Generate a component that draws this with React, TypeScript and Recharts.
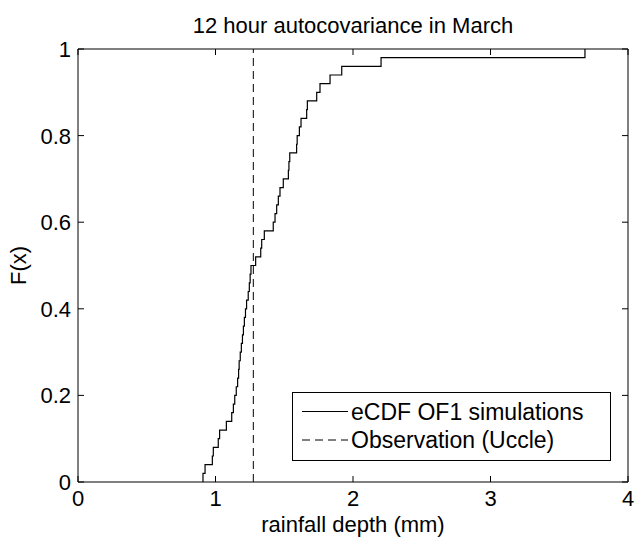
import React from 'react';
import { LineChart, Line, XAxis, YAxis, ReferenceLine } from 'recharts';

// sorted simulated values (mm), one per jump of the eCDF
const simValues = [
  0.909, 0.924, 0.977, 0.984, 1.02, 1.03, 1.079, 1.118, 1.13, 1.14,
  1.151, 1.161, 1.168, 1.172, 1.18, 1.188, 1.196, 1.203, 1.21, 1.218,
  1.226, 1.238, 1.246, 1.252, 1.258, 1.292, 1.329, 1.336, 1.355, 1.42,
  1.433, 1.445, 1.457, 1.469, 1.493, 1.53, 1.534, 1.54, 1.59, 1.594,
  1.61, 1.622, 1.663, 1.668, 1.736, 1.76, 1.833, 1.918, 2.204, 3.687,
];

// F(x) reached after each jump
const ecdfLevels = [
  0.02, 0.04, 0.06, 0.08, 0.1, 0.12, 0.14, 0.16, 0.18, 0.2,
  0.22, 0.24, 0.26, 0.28, 0.3, 0.32, 0.34, 0.36, 0.38, 0.4,
  0.42, 0.44, 0.46, 0.48, 0.5, 0.52, 0.54, 0.56, 0.58, 0.6,
  0.62, 0.64, 0.66, 0.68, 0.7, 0.72, 0.74, 0.76, 0.78, 0.8,
  0.82, 0.84, 0.86, 0.88, 0.9, 0.92, 0.94, 0.96, 0.98, 1,
];

const observation = 1.275;

const xTicks = [0, 1, 2, 3, 4];
const yTicks = [0, 0.2, 0.4, 0.6, 0.8, 1];

const legendItems = [
  { name: 'eCDF OF1 simulations', dash: undefined },
  { name: 'Observation (Uccle)', dash: '8 5' },
];

const FONT = '"Liberation Sans", Arial, Helvetica, sans-serif';
const FS = 22;

const W = 635;
const H = 537;
const MARGIN = { top: 49, right: 7, bottom: 0, left: 0 };
const Y_AXIS_W = 78;
const X_AXIS_H = 55;
const PLOT_W = W - MARGIN.right - Y_AXIS_W;
const PLOT_H = H - MARGIN.top - X_AXIS_H;
const TICK = 6;

const ecdfData = [
  { x: simValues[0], f: 0 },
  ...simValues.map((x, i) => ({ x, f: ecdfLevels[i] })),
];

// bottom tick with its mirrored top tick (MATLAB box style, ticks inward)
const BottomTick = (props: any) => {
  const { x, y, payload } = props;
  return (
    <g>
      <line x1={x} x2={x} y1={y} y2={y - TICK} stroke='#000' />
      <line x1={x} x2={x} y1={y - PLOT_H} y2={y - PLOT_H + TICK} stroke='#000' />
      <text x={x} y={y + 24} textAnchor='middle' fontSize={FS} fontFamily={FONT} fill='#000'>
        {payload.value}
      </text>
    </g>
  );
};

const LeftTick = (props: any) => {
  const { x, y, payload } = props;
  return (
    <g>
      <line x1={x} x2={x + TICK} y1={y} y2={y} stroke='#000' />
      <line x1={x + PLOT_W} x2={x + PLOT_W - TICK} y1={y} y2={y} stroke='#000' />
      <text x={x - 7} y={y + 8} textAnchor='end' fontSize={FS} fontFamily={FONT} fill='#000'>
        {payload.value}
      </text>
    </g>
  );
};

const Overlay = () => {
  const cx = Y_AXIS_W + PLOT_W / 2;
  const cy = MARGIN.top + PLOT_H / 2;
  return (
    <svg
      width={W}
      height={H}
      style={{ position: 'absolute', left: 0, top: 0, pointerEvents: 'none' }}
      fontFamily={FONT}
      fontSize={FS}
    >
      <text x={cx} y={33} textAnchor='middle' fill='#000'>
        12 hour autocovariance in March
      </text>
      <text x={cx} y={532} textAnchor='middle' fill='#000'>
        rainfall depth (mm)
      </text>
      <text
        x={0}
        y={0}
        textAnchor='middle'
        fill='#000'
        transform={`translate(26, ${cy}) rotate(-90)`}
      >
        F(x)
      </text>
      <g fontSize={23}>
        <rect x={292.5} y={392.5} width={318} height={68} fill='#fff' stroke='#000' />
        {legendItems.map((item, i) => {
          const ry = 411.5 + i * 28.5;
          return (
            <g key={item.name}>
              <line x1={302} x2={348} y1={ry} y2={ry} stroke='#000' strokeDasharray={item.dash} />
              <text x={351} y={ry + 8} fill='#000'>
                {item.name}
              </text>
            </g>
          );
        })}
      </g>
    </svg>
  );
};

export default function App() {
  return (
    <div style={{ position: 'absolute', left: 0, top: 0, width: W, height: H, background: '#fff' }}>
      <LineChart width={W} height={H} data={ecdfData} margin={MARGIN}>
        <XAxis
          dataKey='x'
          type='number'
          domain={[0, 4]}
          ticks={xTicks}
          tickSize={0}
          tickMargin={0}
          tickLine={false}
          height={X_AXIS_H}
          stroke='#000'
          tick={<BottomTick />}
          interval={0}
          allowDataOverflow
        />
        <YAxis
          type='number'
          domain={[0, 1]}
          ticks={yTicks}
          tickSize={0}
          tickMargin={0}
          tickLine={false}
          width={Y_AXIS_W}
          stroke='#000'
          tick={<LeftTick />}
          interval={0}
        />
        {/* top and right frame lines */}
        <ReferenceLine y={1} stroke='#000' />
        <ReferenceLine x={4} stroke='#000' />
        <ReferenceLine x={observation} stroke='#000' strokeDasharray='8 5' />
        <Line
          type='stepAfter'
          dataKey='f'
          stroke='#000'
          strokeWidth={1.2}
          dot={false}
          isAnimationActive={false}
        />
      </LineChart>
      <Overlay />
    </div>
  );
}
